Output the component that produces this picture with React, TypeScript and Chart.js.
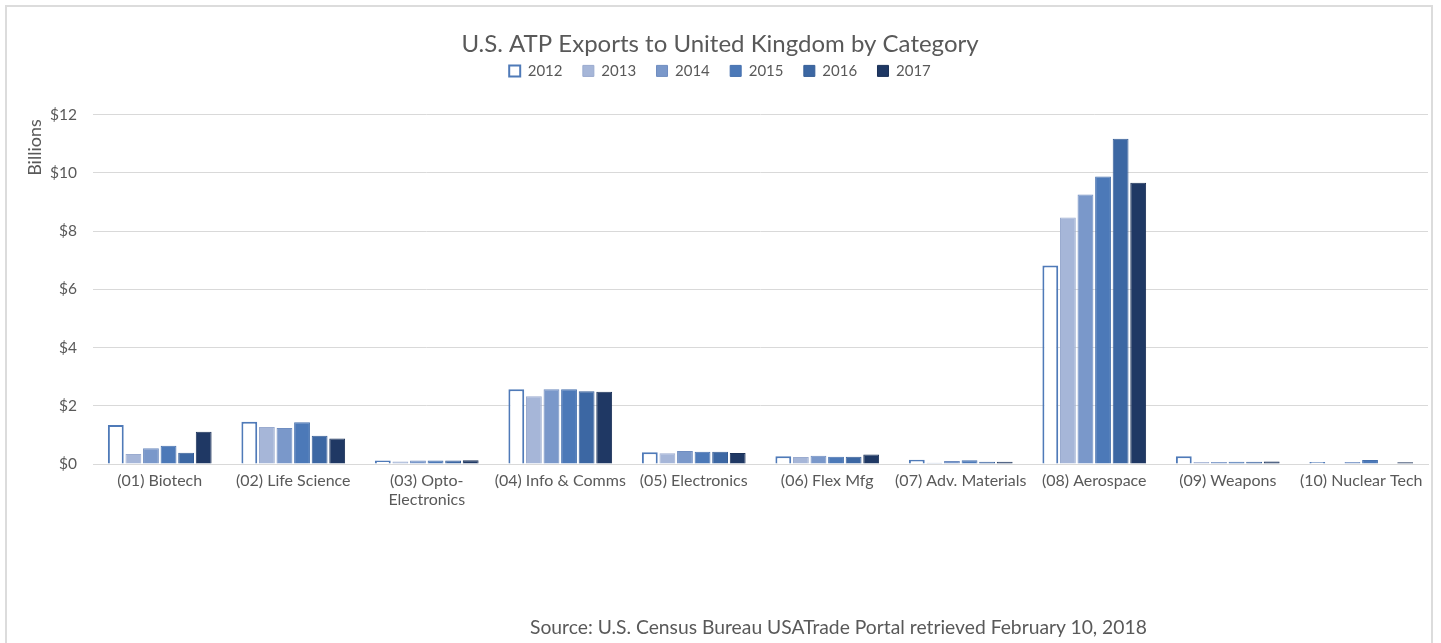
import React, { useEffect, useRef } from "react";
import { Chart, registerables } from "chart.js";

Chart.register(...registerables);

const categories: (string | string[])[] = [
  "(01) Biotech",
  "(02) Life Science",
  ["(03) Opto-", "Electronics"],
  "(04) Info & Comms",
  "(05) Electronics",
  "(06) Flex Mfg",
  "(07) Adv. Materials",
  "(08) Aerospace",
  "(09) Weapons",
  "(10) Nuclear Tech",
];

const years = ["2012", "2013", "2014", "2015", "2016", "2017"];

const v2012 = [1.34, 1.45, 0.12, 2.57, 0.4, 0.27, 0.15, 6.82, 0.27, 0.07];
const v2013 = [0.34, 1.27, 0.09, 2.33, 0.37, 0.24, 0.04, 8.47, 0.07, 0.0];
const v2014 = [0.54, 1.24, 0.12, 2.57, 0.45, 0.28, 0.1, 9.26, 0.07, 0.07];
const v2015 = [0.63, 1.43, 0.12, 2.57, 0.42, 0.25, 0.13, 9.87, 0.08, 0.14];
const v2016 = [0.39, 0.97, 0.12, 2.5, 0.42, 0.25, 0.08, 11.17, 0.08, 0.0];
const v2017 = [1.11, 0.88, 0.13, 2.48, 0.38, 0.33, 0.08, 9.66, 0.09, 0.06];

const seriesValues = [v2012, v2013, v2014, v2015, v2016, v2017];
const fillColors = ["#ffffff", "#a6b6d8", "#7a98ca", "#4c79b8", "#3c67a3", "#1f3864"];
const lineColors = ["#4f7ab8", "#9aabcf", "#6f8dc0", "#4570ae", "#365e97", "#1b3158"];

const yTicks = [0, 2, 4, 6, 8, 10, 12];

const TITLE = "U.S. ATP Exports to United Kingdom by Category";
const SOURCE = "Source: U.S. Census Bureau USATrade Portal retrieved February 10, 2018";
const FONT = "Lato, 'Open Sans', sans-serif";
const GREY = "#595959";

export default function App() {
  const ref = useRef<HTMLCanvasElement | null>(null);

  useEffect(() => {
    if (!ref.current) return;
    const legendSpacer = {
      id: "legendSpacer",
      beforeLayout(chart: any) {
        const lg = chart.legend;
        if (lg && !lg._spaced) {
          const orig = lg.fit;
          lg.fit = function () {
            orig.call(this);
            this.height += 26.2;
          };
          lg._spaced = true;
        }
      },
    };
    const chart = new Chart(ref.current, {
      type: "bar",
      data: {
        labels: categories,
        datasets: years.map((y, i) => ({
          label: y,
          data: seriesValues[i],
          backgroundColor: fillColors[i],
          borderColor: lineColors[i],
          borderWidth: i === 0 ? 2 : 1,
          categoryPercentage: 0.79,
          barPercentage: 0.9,
        })),
      },
      options: {
        responsive: false,
        animation: false,
        layout: { padding: { left: 12, right: 13, top: 0, bottom: 0 } },
        plugins: {
          title: {
            display: true,
            text: TITLE,
            color: GREY,
            font: { family: FONT, size: 24, weight: "normal" },
            padding: { top: 29.6, bottom: 0 },
          },
          legend: {
            display: true,
            position: "top",
            labels: {
              color: GREY,
              font: { family: FONT, size: 15 },
              boxWidth: 11,
              boxHeight: 11,
              padding: 5,
              generateLabels(chart: any) {
                const items = Chart.defaults.plugins.legend.labels.generateLabels(chart);
                return items.map((it: any, idx: number) => ({
                  ...it,
                  text: idx < items.length - 1 ? it.text + "    " : it.text,
                }));
              },
            },
          },
          tooltip: { enabled: false },
        },
        scales: {
          x: {
            grid: { display: false, drawTicks: false },
            border: { display: true, color: "#d9d9d9", width: 1 },
            ticks: {
              color: GREY,
              font: { family: FONT, size: 16 },
              padding: 7,
              maxRotation: 0,
              autoSkip: false,
            },
            afterFit(scale: any) {
              scale.height = 179;
            },
          },
          y: {
            min: 0,
            max: 12,
            grid: { color: "#d9d9d9", lineWidth: 1, drawTicks: false },
            border: { display: false },
            afterBuildTicks(scale: any) {
              scale.ticks = yTicks.map((v) => ({ value: v }));
            },
            ticks: {
              color: GREY,
              font: { family: FONT, size: 15.5 },
              padding: 16,
              callback: (v: any) => "$" + v,
            },
            title: {
              display: true,
              text: "Billions ",
              align: "end",
              color: GREY,
              font: { family: FONT, size: 18 },
              padding: { top: 12, bottom: 4 },
            },
            afterFit(scale: any) {
              scale.width = 81;
            },
          },
        },
      },
      plugins: [legendSpacer],
    } as any);
    return () => chart.destroy();
  }, []);

  return (
    <div style={{ position: "absolute", left: 0, top: 0, width: 1441, height: 643, overflow: "hidden", background: "#fff" }}>
      <div
        style={{
          position: "absolute",
          left: 5,
          top: 5,
          width: 1428,
          height: 700,
          border: "2px solid #dcdcdc",
          boxSizing: "border-box",
        }}
      />
      <canvas ref={ref} width={1441} height={643} style={{ position: "absolute", left: 0, top: 0 }} />
      <div
        style={{
          position: "absolute",
          left: 530,
          top: 615,
          fontFamily: FONT,
          fontSize: 19.3,
          lineHeight: "24px",
          color: GREY,
          whiteSpace: "nowrap",
        }}
      >
        {SOURCE}
      </div>
    </div>
  );
}
